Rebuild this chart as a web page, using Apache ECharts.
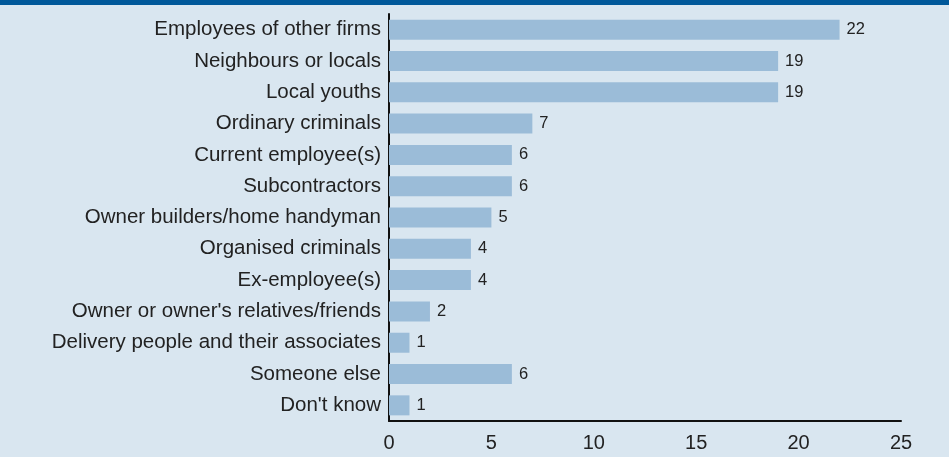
<!DOCTYPE html>
<html>
<head>
<meta charset="utf-8">
<script src="https://cdn.jsdelivr.net/npm/echarts@6/dist/echarts.min.js"></script>
<style>
  html, body { margin: 0; padding: 0; background: #d9e6f0; }
  #topband { height: 5px; background: #00589a; }
  #chart { width: 949px; height: 452px; }
</style>
</head>
<body>
<div id="topband"></div>
<div id="chart"></div>
<script>
// Offender categories, top to bottom
const categories = [
  'Employees of other firms',
  'Neighbours or locals',
  'Local youths',
  'Ordinary criminals',
  'Current employee(s)',
  'Subcontractors',
  'Owner builders/home handyman',
  'Organised criminals',
  'Ex-employee(s)',
  "Owner or owner's relatives/friends",
  'Delivery people and their associates',
  'Someone else',
  "Don't know"
];
const values = [22, 19, 19, 7, 6, 6, 5, 4, 4, 2, 1, 6, 1];
const xTicks = [0, 5, 10, 15, 20, 25];

const FONT = 'Liberation Sans, Arial, sans-serif';

const chart = echarts.init(document.getElementById('chart'));
chart.setOption({
  backgroundColor: '#d9e6f0',
  animation: false,
  grid: { left: 389, right: 48, top: 9, bottom: 36 },
  xAxis: {
    type: 'value',
    min: xTicks[0],
    max: xTicks[xTicks.length - 1],
    interval: 5,
    axisLine: { show: true, lineStyle: { color: '#111', width: 2 } },
    axisTick: { show: false },
    splitLine: { show: false },
    axisLabel: { color: '#222', fontSize: 20, margin: 12, fontFamily: FONT }
  },
  yAxis: {
    type: 'category',
    inverse: true,
    data: categories,
    axisLine: { show: true, lineStyle: { color: '#111', width: 2 } },
    axisTick: { show: false },
    axisLabel: { color: '#222', fontSize: 20.5, margin: 8, fontFamily: FONT }
  },
  series: [{
    type: 'bar',
    data: values,
    barWidth: 20,
    itemStyle: { color: '#9bbcd8' },
    label: {
      show: true,
      position: 'right',
      distance: 7,
      color: '#222',
      fontSize: 16.5,
      fontFamily: FONT
    }
  }]
});
</script>
</body>
</html>
